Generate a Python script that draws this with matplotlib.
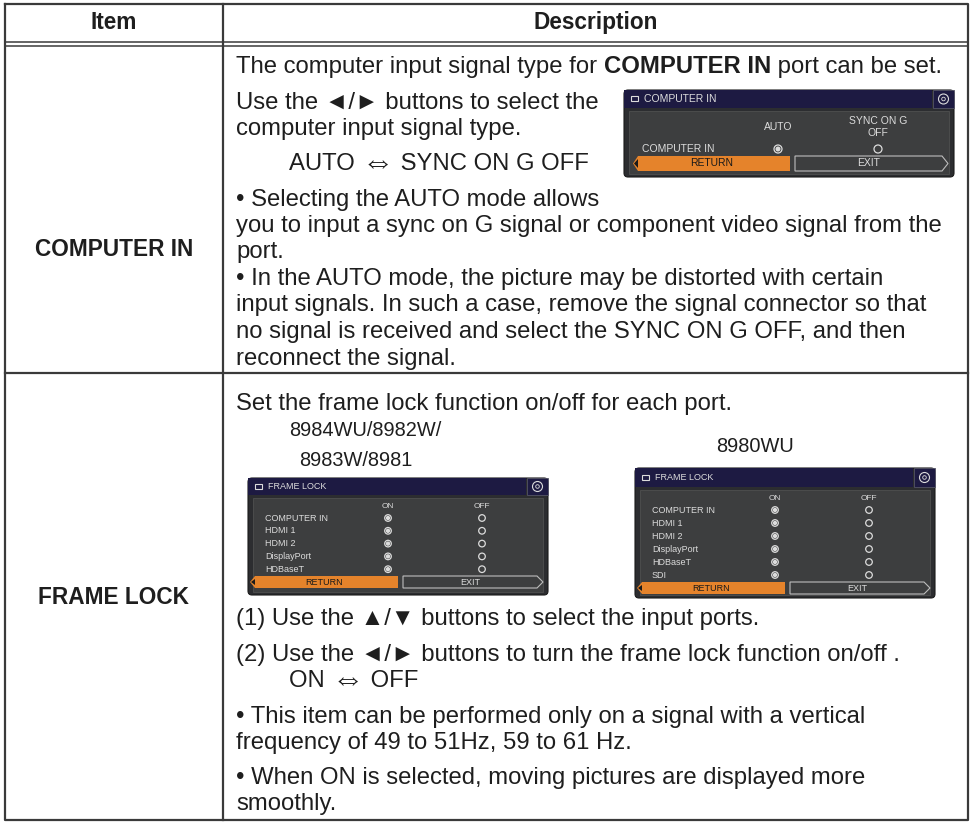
import matplotlib
matplotlib.use("Agg")
import matplotlib.pyplot as plt
from matplotlib.patches import Rectangle, Polygon, Circle, FancyBboxPatch

# ---- table content ----
header_labels = ["Item", "Description"]
item_labels = ["COMPUTER IN", "FRAME LOCK"]

intro_runs = [("The computer input signal type for ", "normal"),
              ("COMPUTER IN", "bold"),
              (" port can be set.", "normal")]
row1_lines = [
    "Use the \u25c4/\u25ba buttons to select the",
    "computer input signal type.",
    "AUTO \u21d4 SYNC ON G OFF",
    "\u2022 Selecting the AUTO mode allows",
    "you to input a sync on G signal or component video signal from the",
    "port.",
    "\u2022 In the AUTO mode, the picture may be distorted with certain",
    "input signals. In such a case, remove the signal connector so that",
    "no signal is received and select the SYNC ON G OFF, and then",
    "reconnect the signal.",
]
row1_indent = [False, False, True, False, False, False, False, False, False, False]

row2_intro = "Set the frame lock function on/off for each port."
models_left = ["8984WU/8982W/", "8983W/8981"]
models_right = ["8980WU"]
row2_lines = [
    "(1) Use the \u25b2/\u25bc buttons to select the input ports.",
    "(2) Use the \u25c4/\u25ba buttons to turn the frame lock function on/off .",
    "ON \u21d4 OFF",
    "\u2022 This item can be performed only on a signal with a vertical",
    "frequency of 49 to 51Hz, 59 to 61 Hz.",
    "\u2022 When ON is selected, moving pictures are displayed more",
    "smoothly.",
]
row2_indent = [False, False, True, False, False, False, False]

# on-screen menus
ci_columns = ["AUTO", "SYNC ON G\nOFF"]
ci_selected = [True, False]
fl_ports_left = ["COMPUTER IN", "HDMI 1", "HDMI 2", "DisplayPort", "HDBaseT"]
fl_ports_right = ["COMPUTER IN", "HDMI 1", "HDMI 2", "DisplayPort", "HDBaseT", "SDI"]

# ---- layout (pixels, baselines) ----
W, H = 973, 822
X_L, X_R, X_SEP = 5, 968, 223
Y_T, Y_B = 4, 820
Y_HEAD = (42, 46)
Y_ROW = 373
TX = 236
TX_IND = 289
intro_y = 73
row1_y = [109, 135, 170, 206, 232, 258, 285, 311, 338, 365]
row2_intro_y = 410
row2_y = [625, 661, 687, 723, 749, 784, 810]

FS = 17.2
FS_HEAD = 16.3
FS_ITEM = 16.3
FS_MODEL = 14.4
TEXT = "#1e1e1e"
LINE = "#3a3a3a"
FAM = ["Liberation Sans", "DejaVu Sans"]
ARROW = "\u21d4"

fig = plt.figure(figsize=(W / 100, H / 100), dpi=100)
ax = fig.add_axes([0, 0, 1, 1])
ax.set_xlim(0, W)
ax.set_ylim(H, 0)
ax.axis("off")
renderer = fig.canvas.get_renderer()


def txt(x, y, s, size=FS, weight="normal", ha="left", color=TEXT, va="baseline", **kw):
    return ax.text(x, y, s, fontsize=size, fontweight=weight, ha=ha, va=va,
                   color=color, family=FAM, **kw)


def width(s, weight="normal", size=FS):
    t = txt(0, 0, s + "|", weight=weight, size=size)
    w1 = t.get_window_extent(renderer).width
    t.remove()
    t = txt(0, 0, "|", weight=weight, size=size)
    w2 = t.get_window_extent(renderer).width
    t.remove()
    return w1 - w2


def line(x, y, s):
    # the double arrow is drawn a bit larger, as in the manual
    if ARROW not in s:
        txt(x, y, s)
        return
    left, right = s.split(ARROW)
    txt(x, y, left)
    x += width(left)
    txt(x, y + 1, ARROW, size=FS * 1.35)
    x += width(ARROW, size=FS * 1.35)
    txt(x, y, right)


# ---- grid ----
lw = 1.6
ax.plot([X_L, X_R, X_R, X_L, X_L], [Y_T, Y_T, Y_B, Y_B, Y_T], color=LINE, lw=lw)
for yy in Y_HEAD:
    ax.plot([X_L, X_R], [yy, yy], color=LINE, lw=1.1)
ax.plot([X_L, X_R], [Y_ROW, Y_ROW], color=LINE, lw=lw)
ax.plot([X_SEP, X_SEP], [Y_T, Y_B], color=LINE, lw=lw)

# ---- header + item column ----
txt((X_L + X_SEP) / 2, 29, header_labels[0], size=FS_HEAD, weight="bold", ha="center")
txt((X_SEP + X_R) / 2, 29, header_labels[1], size=FS_HEAD, weight="bold", ha="center")
txt((X_L + X_SEP) / 2, 256, item_labels[0], size=FS_ITEM, weight="bold", ha="center")
txt((X_L + X_SEP) / 2, 604, item_labels[1], size=FS_ITEM, weight="bold", ha="center")

# ---- row 1 text ----
x = TX
for s, wgt in intro_runs:
    txt(x, intro_y, s, weight=wgt)
    x += width(s, wgt)
for s, ind, yy in zip(row1_lines, row1_indent, row1_y):
    line(TX_IND if ind else TX, yy, s)

# ---- row 2 text ----
txt(TX, row2_intro_y, row2_intro)
for s, xx, yy in zip(models_left, [289, 299], [436, 466]):
    txt(xx, yy, s, size=FS_MODEL)
txt(755, 452, models_right[0], size=FS_MODEL, ha="center")
for s, ind, yy in zip(row2_lines, row2_indent, row2_y):
    line(TX_IND if ind else TX, yy, s)

# ---- menu drawing helpers ----
NAVY = "#1d1a42"
BODY = "#2c2d30"
PANEL = "#3d3e3f"
MTXT = "#dcdcdc"
ORANGE = "#e5832b"


def radio(cx, cy, r, on):
    ax.add_patch(Circle((cx, cy), r, fill=False, ec=MTXT, lw=0.9))
    if on:
        ax.add_patch(Circle((cx, cy), r * 0.45, color=MTXT))


def menu_frame(x0, y0, w, h, tb, title, fs):
    ax.add_patch(FancyBboxPatch((x0, y0), w, h, boxstyle="round,pad=0,rounding_size=4",
                                fc=BODY, ec="#1a1a1a", lw=0.8))
    ax.add_patch(Rectangle((x0, y0), w - 22, tb, fc=NAVY, ec="none"))
    ax.add_patch(Rectangle((x0 + w - 21, y0), 21, tb, fc=NAVY, ec="#555566", lw=0.6))
    ax.add_patch(Rectangle((x0 + 7, y0 + tb / 2 - 2.5), 7, 5, fc="none", ec=MTXT, lw=0.8))
    txt(x0 + 20, y0 + tb / 2, title, size=fs, color=MTXT, va="center")
    gx, gy = x0 + w - 10.5, y0 + tb / 2
    ax.add_patch(Circle((gx, gy), 5, fill=False, ec=MTXT, lw=0.8))
    ax.add_patch(Circle((gx, gy), 1.8, fill=False, ec=MTXT, lw=0.6))
    ax.add_patch(Rectangle((x0 + 5, y0 + tb + 3), w - 10, h - tb - 6, fc=PANEL, ec="#555",
                           lw=0.5))


def bottom_bar(x0, x1, xm, y0, y1, fs):
    ym = (y0 + y1) / 2
    ax.add_patch(Polygon([(x0 + 5, y0), (xm, y0), (xm, y1), (x0 + 5, y1), (x0, ym)],
                         closed=True, fc=ORANGE, ec="none"))
    ax.add_patch(Polygon([(x0 + 1, ym), (x0 + 5, y0 + 3), (x0 + 5, y1 - 3)],
                         closed=True, fc="#1a1a1a", ec="none"))
    txt((x0 + xm) / 2, ym, "RETURN", size=fs, color="#1a1a1a", va="center", ha="center")
    ax.add_patch(Polygon([(xm + 5, y0), (x1 - 6, y0), (x1, ym), (x1 - 6, y1),
                          (xm + 5, y1)], closed=True, fc="none", ec="#bdbdbd", lw=0.8))
    txt((xm + x1) / 2, ym, "EXIT", size=fs, color=MTXT, va="center", ha="center")


# COMPUTER IN menu
menu_frame(624, 90, 330, 87, 18, "COMPUTER IN", 7.5)
for lab, cx, sel in zip(ci_columns, [778, 878], ci_selected):
    txt(cx, 127, lab, size=7.5, color=MTXT, ha="center", va="center", linespacing=1.3)
    radio(cx, 149, 4, sel)
txt(642, 149, "COMPUTER IN", size=7.5, color=MTXT, va="center")
bottom_bar(633, 948, 790, 156, 171, 7.5)


def frame_lock(x0, y0, w, h, tb, ports, fs, step):
    menu_frame(x0, y0, w, h, tb, "FRAME LOCK", fs)
    on_x, off_x = x0 + 140, x0 + 234
    hy = y0 + tb + 11
    txt(on_x, hy, "ON", size=fs - 0.5, color=MTXT, ha="center", va="center")
    txt(off_x, hy, "OFF", size=fs - 0.5, color=MTXT, ha="center", va="center")
    for i, p in enumerate(ports):
        yy = hy + 12 + i * step
        txt(x0 + 17, yy, p, size=fs, color=MTXT, va="center")
        radio(on_x, yy, 3.3, True)
        radio(off_x, yy, 3.3, False)
    yb = hy + 12 + len(ports) * step - 6
    bottom_bar(x0 + 2, x0 + w - 5, x0 + 150, yb, yb + 12, fs)


frame_lock(248, 478, 300, 117, 17, fl_ports_left, 6.5, 12.8)
frame_lock(635, 468, 300, 130, 19, fl_ports_right, 6.5, 13)

fig.savefig("out.png", dpi=100)
